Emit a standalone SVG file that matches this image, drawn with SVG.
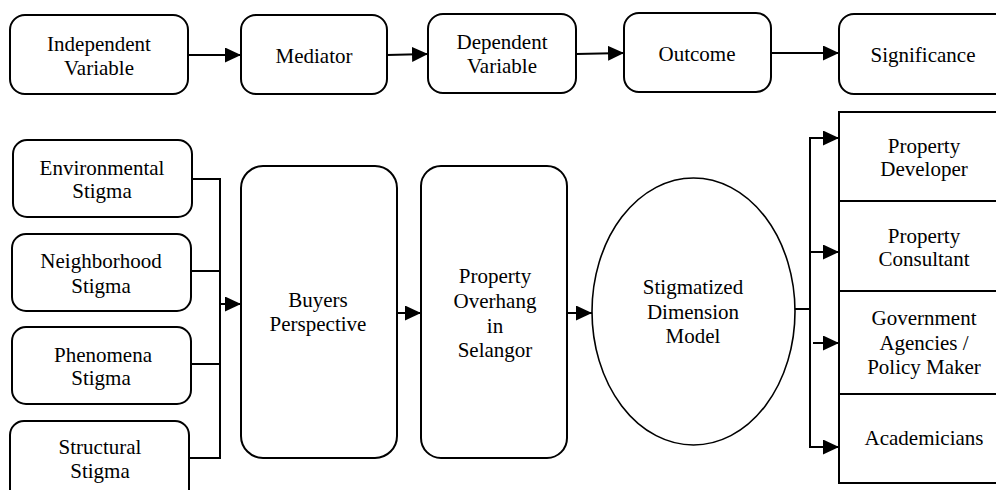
<svg xmlns="http://www.w3.org/2000/svg" width="996" height="490" viewBox="0 0 996 490">
<style>
.box{fill:#fff;stroke:#000;stroke-width:2}
.ell{fill:#fff;stroke:#000;stroke-width:1.6}
.ln{fill:none;stroke:#000;stroke-width:2}
.arr{fill:none;stroke:#000;stroke-width:2;marker-end:url(#ah)}
text{font-family:"Liberation Serif","Times New Roman",serif;font-size:21px;fill:#000;text-anchor:middle}
</style>
<defs>
<marker id="ah" markerUnits="userSpaceOnUse" markerWidth="16" markerHeight="16" refX="16" refY="7.5" orient="auto">
<path d="M0,0 L16,7.5 L0,15 z" fill="#000"/>
</marker>
</defs>
<rect width="996" height="490" fill="#fff"/>

<g id="connectors">
<line class="arr" x1="188" y1="55" x2="241" y2="55"/>
<line class="arr" x1="387" y1="55" x2="428" y2="54"/>
<line class="arr" x1="576" y1="54" x2="624" y2="53"/>
<line class="arr" x1="771" y1="53" x2="839" y2="53"/>
<line class="ln" x1="192" y1="179" x2="220" y2="179"/>
<line class="ln" x1="191" y1="271" x2="220" y2="271"/>
<line class="ln" x1="191" y1="364" x2="220" y2="364"/>
<line class="ln" x1="189" y1="458" x2="220" y2="458"/>
<line class="ln" x1="220" y1="178" x2="220" y2="459"/>
<line class="arr" x1="220" y1="304" x2="241" y2="304"/>
<line class="arr" x1="397" y1="313" x2="421" y2="313"/>
<line class="arr" x1="567" y1="313" x2="592" y2="313"/>
<line class="ln" x1="792" y1="309" x2="810" y2="309"/>
<line class="ln" x1="810" y1="137" x2="810" y2="448"/>
<line class="arr" x1="809" y1="138" x2="839" y2="138"/>
<line class="arr" x1="810" y1="252" x2="839" y2="252"/>
<line class="arr" x1="813" y1="343" x2="839" y2="343"/>
<line class="arr" x1="809" y1="447" x2="839" y2="447"/>
</g>

<g id="independent">
<rect class="box" x="10" y="15" width="178" height="79" rx="15"/>
<text x="99" y="51">Independent</text>
<text x="99" y="75">Variable</text>
</g>
<g id="mediator">
<rect class="box" x="241" y="15" width="146" height="79" rx="15"/>
<text x="314" y="63">Mediator</text>
</g>
<g id="dependent">
<rect class="box" x="428" y="14" width="148" height="79" rx="15"/>
<text x="502" y="49">Dependent</text>
<text x="502" y="73">Variable</text>
</g>
<g id="outcome">
<rect class="box" x="624" y="13" width="147" height="79" rx="15"/>
<text x="697" y="61">Outcome</text>
</g>
<g id="significance">
<rect class="box" x="839" y="14" width="180" height="80" rx="15"/>
<text x="923" y="62">Significance</text>
</g>

<g id="environmental">
<rect class="box" x="13" y="140" width="179" height="77" rx="14"/>
<text x="102" y="175">Environmental</text>
<text x="102" y="198">Stigma</text>
</g>
<g id="neighborhood">
<rect class="box" x="12" y="234" width="179" height="77" rx="14"/>
<text x="101" y="268">Neighborhood</text>
<text x="101" y="293">Stigma</text>
</g>
<g id="phenomena">
<rect class="box" x="12" y="327" width="179" height="77" rx="14"/>
<text x="103" y="362">Phenomena</text>
<text x="101" y="385">Stigma</text>
</g>
<g id="structural">
<rect class="box" x="10" y="421" width="179" height="85" rx="14"/>
<text x="100" y="454">Structural</text>
<text x="100" y="478">Stigma</text>
</g>

<g id="buyers">
<rect class="box" x="241" y="166" width="156" height="292" rx="22"/>
<text x="318" y="307">Buyers</text>
<text x="318" y="331">Perspective</text>
</g>
<g id="overhang">
<rect class="box" x="421" y="166" width="146" height="292" rx="20"/>
<text x="495" y="283">Property</text>
<text x="495" y="308">Overhang</text>
<text x="495" y="333">in</text>
<text x="495" y="357">Selangor</text>
</g>
<g id="model">
<ellipse class="ell" cx="693.5" cy="311.5" rx="101.5" ry="133.5"/>
<text x="693" y="294">Stigmatized</text>
<text x="693" y="319">Dimension</text>
<text x="693" y="343">Model</text>
</g>

<g id="developer">
<rect class="box" x="839" y="112" width="180" height="89"/>
<text x="924" y="153">Property</text>
<text x="924" y="176">Developer</text>
</g>
<g id="consultant">
<rect class="box" x="839" y="201" width="180" height="90"/>
<text x="924" y="243">Property</text>
<text x="924" y="266">Consultant</text>
</g>
<g id="government">
<rect class="box" x="839" y="291" width="180" height="103"/>
<text x="924" y="325">Government</text>
<text x="924" y="350">Agencies /</text>
<text x="924" y="374">Policy Maker</text>
</g>
<g id="academicians">
<rect class="box" x="839" y="394" width="180" height="89"/>
<text x="924" y="445">Academicians</text>
</g>
</svg>
